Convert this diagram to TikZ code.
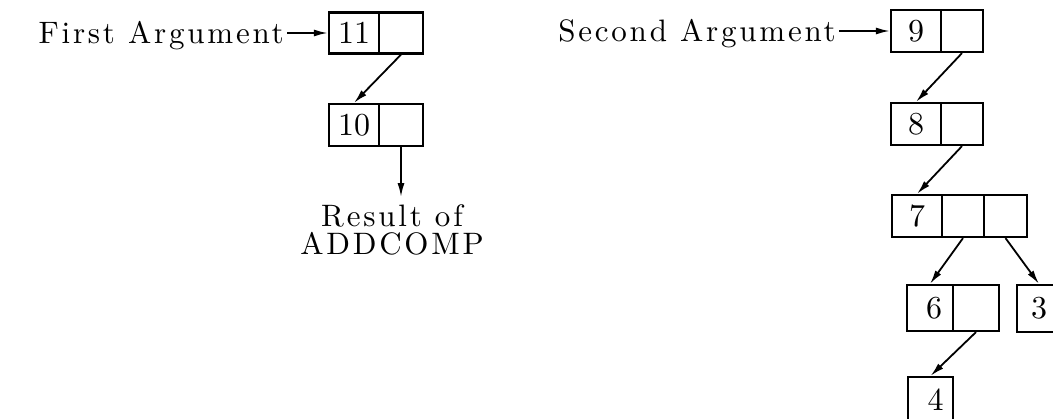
\documentclass[tikz,border=0pt]{standalone}
\usepackage{fontspec}
\usetikzlibrary{arrows.meta}

\newfontfamily\spacedfont{lmroman10-regular}[Extension=.otf, LetterSpace=9]
\newfontfamily\plainfont{lmroman10-regular}[Extension=.otf]
\newcommand\txtfont{\spacedfont\fontsize{31}{28}\selectfont}
\newcommand\digfont{\plainfont\fontsize{32}{28}\selectfont}

\tikzset{
  cell/.style={draw, line width=2.2pt, inner sep=0pt, font=\digfont,
               minimum height=42pt},
  lbl/.style={inner sep=0pt, font=\txtfont, text height=21pt, text depth=0pt},
  ptr/.style={line width=1.8pt, -{Latex[length=14pt,width=7pt]}},
}

\begin{document}
\begin{tikzpicture}[x=1pt, y=-1pt]
  \useasboundingbox (0,0) rectangle (1053,418);
  \clip (0,0) rectangle (1053,418);

  % first list: 11 -> 10
  \node[cell, minimum width=50pt, minimum height=41pt] (c11a) at (354,33) {11};
  \node[cell, minimum width=44pt, minimum height=41pt] (c11b) at (401,33) {};
  \node[cell, minimum width=50pt] (c10a) at (354,125) {10};
  \node[cell, minimum width=44pt] (c10b) at (401,125) {};

  \node[lbl, anchor=east, inner xsep=3pt] (fa) at (287,33) {First Argument};
  \node[inner sep=0pt, font=\txtfont, align=center, anchor=north] (res)
       at (392,204) {Result of\\ADDCOMP};

  \draw[ptr] (fa.east) -- (c11a.west);
  \draw[ptr] (c11b.south) -- (c10a.north);
  \draw[ptr, shorten >=7pt] (c10b.south) -- (res.north -| c10b.south);

  % second list: 9 -> 8 -> 7 -> (6 -> 4, 3)
  \node[cell, minimum width=50pt] (c9a) at (916,31) {9};
  \node[cell, minimum width=42pt] (c9b) at (962,31) {};
  \node[cell, minimum width=50pt] (c8a) at (916,124) {8};
  \node[cell, minimum width=42pt] (c8b) at (962,124) {};
  \node[cell, minimum width=50pt] (c7a) at (917,216) {7};
  \node[cell, minimum width=42pt] (c7b) at (963,216) {};
  \node[cell, minimum width=43pt] (c7c) at (1005.5,216) {};
  \node[cell, minimum width=46pt, minimum height=46pt] (c6a) at (930,308) {\hspace*{8pt}6};
  \node[cell, minimum width=46pt, minimum height=46pt] (c6b) at (976,308) {};
  \node[cell, minimum width=44pt, minimum height=47pt] (c3) at (1039,308.5) {3};
  \node[cell, minimum width=45pt, minimum height=46pt] (c4) at (930.5,400) {\hspace*{10pt}4};

  \node[lbl, anchor=east, inner xsep=3pt] (sa) at (839,31) {Second Argument};

  \draw[ptr] (sa.east) -- (c9a.west);
  \draw[ptr] (c9b.south) -- (c8a.north);
  \draw[ptr] (c8b.south) -- (c7a.north);
  \draw[ptr] (c7b.south) -- (c6a.north);
  \draw[ptr] (c7c.south) -- (c3.north);
  \draw[ptr] (c6b.south) -- (c4.north);
\end{tikzpicture}
\end{document}
